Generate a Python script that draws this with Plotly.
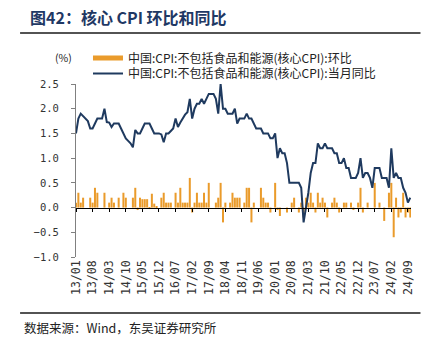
import plotly.graph_objects as go

# ---------------- data ----------------
years = list(range(2013, 2025))
months = [f"{y % 100:02d}/{m:02d}" for y in years for m in range(1, 13)][:142]  # 13/01 .. 24/10

mom = [
    0.1, 0.3, 0.1, 0.2, 0.0, 0.0, 0.2, 0.1, 0.4, 0.3, 0.0, 0.0,        # 2013
    0.3, 0.0, 0.1, 0.2, 0.1, 0.0, 0.2, 0.0, 0.3, 0.2, 0.0, 0.0,        # 2014
    0.2, 0.4, -0.05, 0.2, 0.17, 0.17, 0.17, -0.03, 0.28, 0.08, 0.03, 0.0,  # 2015
    0.2, 0.3, 0.1, 0.1, 0.1, 0.0, 0.3, 0.1, 0.4, 0.1, 0.1, 0.1,        # 2016
    0.6, -0.1, 0.1, 0.3, 0.1, 0.1, 0.3, 0.1, 0.5, 0.0, 0.0, 0.1,       # 2017
    0.2, 0.5, -0.3, 0.1, 0.0, 0.1, 0.3, 0.2, 0.2, 0.2, 0.0, 0.1,       # 2018
    0.4, 0.4, -0.3, 0.1, 0.0, 0.0, 0.4, 0.2, 0.1, 0.1, -0.1, 0.0,      # 2019
    0.5, -0.05, -0.17, 0.0, 0.0, -0.1, 0.0, 0.1, 0.2, 0.0, -0.1, 0.1,  # 2020
    -0.2, 0.2, 0.1, 0.3, 0.1, -0.1, 0.3, 0.1, 0.2, 0.1, -0.2, 0.0,     # 2021
    0.1, 0.2, 0.1, -0.1, 0.0, 0.1, 0.1, 0.0, 0.1, -0.05, 0.0, 0.1,     # 2022
    0.4, -0.1, 0.0, 0.1, 0.0, 0.0, 0.5, 0.0, 0.1, 0.0, -0.27, 0.0,     # 2023
    0.3, 0.5, -0.6, 0.2, -0.2, -0.1, 0.3, -0.2, -0.1, -0.2,            # 2024
]

yoy = [
    1.5, 1.8, 1.9, 1.85, 1.8, 1.75, 1.6, 1.6, 1.7, 1.8, 1.8, 1.8,      # 2013
    2.0, 1.73, 1.72, 1.63, 1.7, 1.7, 1.7, 1.6, 1.5, 1.4, 1.35, 1.3,    # 2014
    1.22, 1.57, 1.5, 1.5, 1.6, 1.7, 1.7, 1.7, 1.6, 1.5, 1.5, 1.5,      # 2015
    1.48, 1.32, 1.5, 1.5, 1.55, 1.6, 1.8, 1.63, 1.72, 1.8, 1.88, 1.93, # 2016
    2.2, 1.8, 2.0, 2.1, 2.1, 2.2, 2.1, 2.2, 2.3, 2.3, 2.3, 2.2,        # 2017
    1.9, 2.5, 2.0, 2.0, 1.9, 1.9, 1.9, 2.0, 1.7, 1.8, 1.8, 1.8,        # 2018
    1.9, 1.8, 1.8, 1.7, 1.6, 1.6, 1.6, 1.5, 1.5, 1.5, 1.4, 1.4,        # 2019
    1.5, 1.0, 1.2, 1.1, 1.1, 0.9, 0.5, 0.5, 0.5, 0.5, 0.5, 0.4,        # 2020
    -0.3, 0.0, 0.3, 0.7, 0.9, 0.9, 1.3, 1.2, 1.2, 1.3, 1.2, 1.2,       # 2021
    1.2, 1.1, 1.1, 0.9, 0.9, 1.0, 0.8, 0.8, 0.6, 0.6, 0.6, 0.7,        # 2022
    1.0, 0.6, 0.7, 0.7, 0.6, 0.4, 0.8, 0.8, 0.8, 0.6, 0.6, 0.6,        # 2023
    0.4, 1.2, 0.6, 0.7, 0.6, 0.6, 0.4, 0.3, 0.1, 0.2,                  # 2024
]

tick_labels = months[:141:7]
y_ticks = [-1, -0.5, 0, 0.5, 1, 1.5, 2, 2.5]
name_mom = "中国:CPI:不包括食品和能源(核心CPI):环比"
name_yoy = "中国:CPI:不包括食品和能源(核心CPI):当月同比"
title_text = "图42：核心 CPI 环比和同比"
source_text = "数据来源：Wind，东吴证券研究所"

ORANGE = "#EA9B2B"
NAVY = "#1F3A5F"

# ---------------- layout geometry ----------------
WIDTH, HEIGHT = 432, 345
L, R, T, B = 76, 20.5, 84, 88
PW = WIDTH - L - R
PH = HEIGHT - T - B


def px_x(px):
    return (px - L) / PW


def px_y(py):
    return (HEIGHT - B - py) / PH


fig = go.Figure()

fig.add_trace(go.Bar(
    x=months, y=mom, marker=dict(color=ORANGE, line=dict(width=0)),
    showlegend=False, name=name_mom,
))
# legend proxy for the bar series (wide thin swatch)
fig.add_trace(go.Scatter(
    x=[None], y=[None], mode="lines", line=dict(color=ORANGE, width=5),
    name=name_mom, showlegend=True, legend="legend",
))
fig.add_trace(go.Scatter(
    x=months, y=yoy, mode="lines", line=dict(color=NAVY, width=2),
    name=name_yoy, xaxis="x2", yaxis="y2", legend="legend2",
))

legend_font = dict(family="Noto Sans CJK SC", size=12, color="#222")
xr = [0, 141.3]
yr = [-1, 2.5]
fig.update_layout(
    width=WIDTH, height=HEIGHT,
    margin=dict(l=L, r=R, t=T, b=B),
    paper_bgcolor="white", plot_bgcolor="white",
    bargap=0.15,
    font=dict(family="Noto Sans CJK SC", size=11, color="#222"),
    xaxis=dict(
        type="category", range=xr, showline=False, ticks="", showgrid=False,
        zeroline=False, tickmode="array", tickvals=tick_labels, ticktext=tick_labels,
        tickangle=-90, tickfont=dict(family="DejaVu Sans Mono", size=11.5, color="#333"),
    ),
    xaxis2=dict(
        type="category", range=xr, overlaying="x", anchor="free",
        position=1 / 3.5, side="bottom", showline=True, linecolor="#000",
        linewidth=1.2, ticks="outside", ticklen=3, tickcolor="#000",
        tickmode="array", tickvals=tick_labels, showticklabels=False,
        showgrid=False, zeroline=False,
    ),
    # labels only (invisible long ticks push the labels out)
    yaxis=dict(
        range=yr, tickmode="array", tickvals=y_ticks, tickformat=".1f",
        showline=False, ticks="outside", ticklen=14, tickcolor="rgba(0,0,0,0)",
        showgrid=False, zeroline=False,
        tickfont=dict(family="DejaVu Sans Mono", size=10.5, color="#333"),
    ),
    # visible axis line and short ticks
    yaxis2=dict(
        range=yr, overlaying="y", anchor="x2", side="left", tickmode="array",
        tickvals=y_ticks, showticklabels=False, showline=True, linecolor="#808080",
        linewidth=1, ticks="outside", ticklen=4, tickcolor="#808080",
        showgrid=False, zeroline=False,
    ),
    legend=dict(
        x=px_x(88), y=px_y(58), xanchor="left", yanchor="middle",
        bgcolor="rgba(0,0,0,0)", borderwidth=0, font=legend_font, itemwidth=30,
    ),
    legend2=dict(
        x=px_x(88), y=px_y(73.5), xanchor="left", yanchor="middle",
        bgcolor="rgba(0,0,0,0)", borderwidth=0, font=legend_font, itemwidth=30,
    ),
    annotations=[
        dict(text=f"<b>{title_text}</b>", x=px_x(28), y=px_y(17), xref="paper", yref="paper",
             xanchor="left", yanchor="middle", showarrow=False,
             font=dict(family="Noto Sans CJK SC", size=16, color="#1F3864")),
        dict(text="(%)", x=px_x(63), y=px_y(58), xref="paper", yref="paper",
             xanchor="center", yanchor="middle", showarrow=False,
             font=dict(family="Noto Sans CJK SC", size=10.5, color="#222")),
        dict(text=source_text, x=px_x(22), y=px_y(327), xref="paper", yref="paper",
             xanchor="left", yanchor="middle", showarrow=False,
             font=dict(family="Noto Sans CJK SC", size=12.5, color="#222")),
    ],
    shapes=[
        dict(type="line", xref="paper", yref="paper", x0=px_x(20), x1=px_x(421),
             y0=px_y(33), y1=px_y(33), line=dict(color="#1a1a1a", width=1.5)),
        dict(type="line", xref="paper", yref="paper", x0=px_x(20), x1=px_x(421),
             y0=px_y(313), y1=px_y(313), line=dict(color="#1a1a1a", width=1.5)),
    ],
)

fig.write_html("out.html")
